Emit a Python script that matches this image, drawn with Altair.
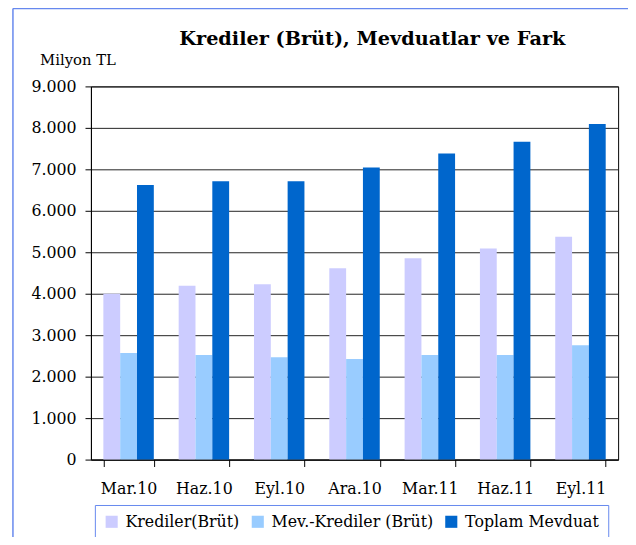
import altair as alt
import pandas as pd

categories = ["Mar.10", "Haz.10", "Eyl.10", "Ara.10", "Mar.11", "Haz.11", "Eyl.11"]
series = ["Krediler(Brüt)", "Mev.-Krediler (Brüt)", "Toplam Mevduat"]
krediler = [4000, 4190, 4230, 4615, 4855, 5090, 5375]
mev_krediler = [2570, 2520, 2470, 2425, 2520, 2520, 2755]
toplam = [6620, 6710, 6710, 7045, 7380, 7665, 8095]
colors = ["#CCCCFF", "#99CCFF", "#0066CC"]
y_ticks = [0, 1000, 2000, 3000, 4000, 5000, 6000, 7000, 8000, 9000]
title_text = "Krediler (Brüt), Mevduatlar ve Fark"

rows = []
for s, vals in zip(series, [krediler, mev_krediler, toplam]):
    for c, v in zip(categories, vals):
        rows.append({"cat": c, "series": s, "value": v})
df = pd.DataFrame(rows)

FONT = "DejaVu Serif"

bars = alt.Chart(df).mark_bar(stroke=None).encode(
    x=alt.X("cat:N", sort=categories,
            scale=alt.Scale(paddingInner=0.33, paddingOuter=0.165),
            axis=alt.Axis(title=None, labelAngle=0, tickBand="extent", tickSize=7,
                          tickColor="#000", domainColor="#000",
                          labelFontSize=16, labelColor="#000", labelPadding=14,
                          grid=False)),
    xOffset=alt.XOffset("series:N", sort=series),
    y=alt.Y("value:Q", scale=alt.Scale(domain=[0, 9000], nice=False),
            axis=alt.Axis(values=y_ticks, title="Milyon TL", titleAngle=0,
                          titleX=-52, titleY=-27, titleAlign="left",
                          titleBaseline="middle", titleFontSize=15,
                          titleFontWeight="normal", titleColor="#000",
                          labelFontSize=16, labelColor="#000",
                          labelPadding=9, tickSize=6, tickColor="#000",
                          domainColor="#000", gridColor="#222", gridWidth=1,
                          labelExpr="replace(format(datum.value, ','), ',', '.')")),
    color=alt.Color("series:N", sort=series,
                    scale=alt.Scale(domain=series, range=colors),
                    legend=alt.Legend(title=None, orient="none", legendX=4, legendY=424,
                                      direction="horizontal", symbolType="square",
                                      symbolSize=150, symbolStrokeWidth=0,
                                      labelFontSize=16,
                                      labelColor="#000", labelLimit=300,
                                      columnPadding=10, symbolOffset=0,
                                      strokeColor="#6688EE", padding=9,
                                      labelOffset=6)),
)

title = alt.Chart(pd.DataFrame({"t": [title_text]})).mark_text(
    fontSize=19.5, fontWeight="bold", color="#000", baseline="middle", align="center"
).encode(text="t:N", x=alt.value(285), y=alt.value(-48))

border_top = alt.Chart(pd.DataFrame({"a": [0]})).mark_rule(color="#6688EE", strokeWidth=1.5).encode(
    x=alt.value(-79), x2=alt.value(560), y=alt.value(-79))
border_left = alt.Chart(pd.DataFrame({"a": [0]})).mark_rule(color="#6688EE", strokeWidth=1.5).encode(
    x=alt.value(-79), y=alt.value(-79), y2=alt.value(470))

chart = alt.layer(bars, title, border_top, border_left).properties(
    width=534, height=378,
    autosize=alt.AutoSizeParams(type="none"),
    padding={"left": 84, "top": 76, "right": 10, "bottom": 75},
).configure(font=FONT, background="#fff").configure_view(stroke="#000", strokeWidth=1)

chart.save("out.html", embed_options={"renderer": "svg", "actions": False})
